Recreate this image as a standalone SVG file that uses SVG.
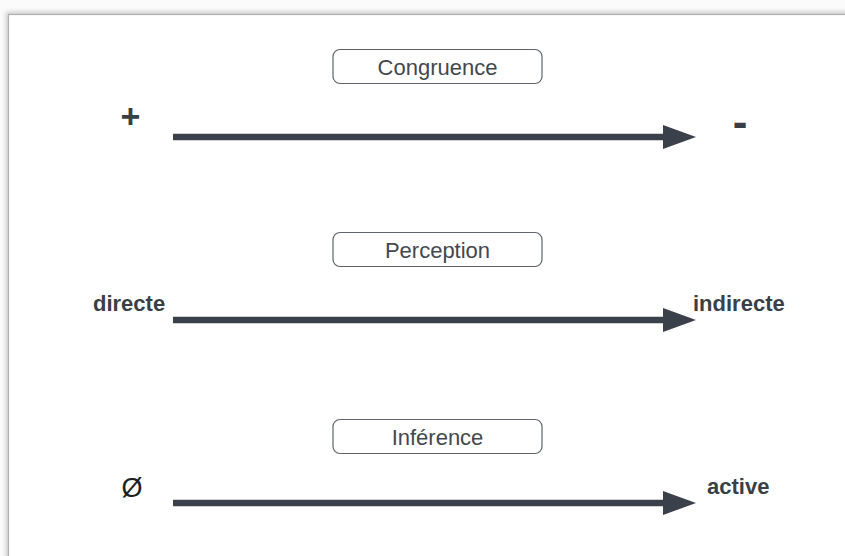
<svg xmlns="http://www.w3.org/2000/svg" width="845" height="556" viewBox="0 0 845 556">
  <style>
    .box { fill: #ffffff; stroke: #5f646b; stroke-width: 1.2; }
    .boxlabel { font-family: "Liberation Sans", Arial, sans-serif; font-size: 22px; fill: #43484f; text-anchor: middle; }
    .endlabel { font-family: "Liberation Sans", Arial, sans-serif; font-size: 22px; font-weight: bold; fill: #3a3f47; }
    .sym { font-family: "Liberation Sans", Arial, sans-serif; text-anchor: middle; }
    .axis { stroke: #3a414a; stroke-width: 6.5; fill: none; }
  </style>
  <defs>
    <marker id="head" markerUnits="userSpaceOnUse" markerWidth="34" markerHeight="24" refX="3" refY="12" orient="auto">
      <path d="M0,0 L33,12 L0,24 Z" fill="#3a414a"/>
    </marker>
    <filter id="shadow" x="-5%" y="-5%" width="110%" height="110%">
      <feGaussianBlur stdDeviation="2.5"/>
    </filter>
  </defs>
  <rect x="0" y="0" width="845" height="556" fill="#fbfbfb"/>
  <rect x="6" y="12" width="860" height="560" fill="#c8c8c8" filter="url(#shadow)"/>
  <rect x="8.5" y="14.5" width="850" height="550" fill="#ffffff" stroke="#b0b0b0" stroke-width="1.2"/>

  <g id="connectors">
    <line class="axis" x1="173" y1="137" x2="666" y2="137" marker-end="url(#head)"/>
    <line class="axis" x1="173" y1="320" x2="666" y2="320" marker-end="url(#head)"/>
    <line class="axis" x1="173" y1="503" x2="666" y2="503" marker-end="url(#head)"/>
  </g>

  <g id="congruence">
    <rect class="box" x="333" y="49.5" width="209" height="34" rx="7"/>
    <text class="boxlabel" x="437.5" y="75">Congruence</text>
  </g>
  <g id="perception">
    <rect class="box" x="333" y="232.5" width="209" height="34" rx="7"/>
    <text class="boxlabel" x="437.5" y="258">Perception</text>
  </g>
  <g id="inference">
    <rect class="box" x="333" y="419.5" width="209" height="34" rx="7"/>
    <text class="boxlabel" x="437.5" y="445">Inférence</text>
  </g>

  <g id="plus">
    <text class="sym" x="130.5" y="128" style="font-size:34px;font-weight:bold;fill:#3a3f47">+</text>
  </g>
  <g id="minus">
    <text class="sym" x="740" y="137" style="font-size:44px;font-weight:bold;fill:#3a3f47">-</text>
  </g>
  <g id="directe">
    <text class="endlabel" x="93" y="311">directe</text>
  </g>
  <g id="indirecte">
    <text class="endlabel" x="693" y="311">indirecte</text>
  </g>
  <g id="empty">
    <text class="sym" x="132" y="497" style="font-size:27px;fill:#1e1e1e">Ø</text>
  </g>
  <g id="active">
    <text class="endlabel" x="707" y="494">active</text>
  </g>
</svg>
